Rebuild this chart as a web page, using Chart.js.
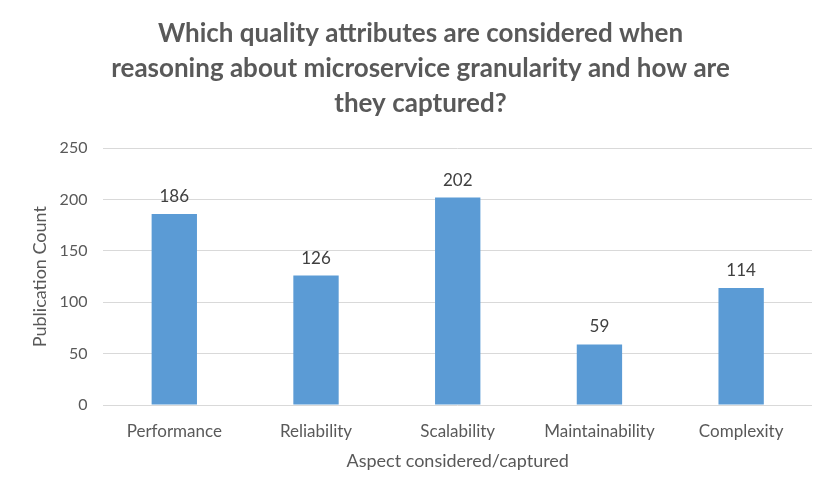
<!DOCTYPE html>
<html lang="en">
<head>
    <meta charset="UTF-8">
    <script src="https://cdn.jsdelivr.net/npm/chart.js"></script>
    <title>Quality attributes</title>
    <style>
        html, body { margin: 0; padding: 0; background: #ffffff; }
        #grafico { display: block; }
    </style>
</head>
<body>
    <canvas id="grafico" width="837" height="497"></canvas>

<script>
    const categorias = ['Performance', 'Reliability', 'Scalability', 'Maintainability', 'Complexity'];
    const contagens = [186, 126, 202, 59, 114];
    const tituloLinhas = [
        'Which quality attributes are considered when',
        'reasoning about microservice granularity and how are',
        'they captured?'
    ];

    const fonte = 'Lato, "Liberation Sans", sans-serif';
    const cinza = '#595959';

    // rotulos de valor em cima das barras
    const rotulosBarras = {
        id: 'rotulosBarras',
        afterDatasetsDraw(chart) {
            const ctx = chart.ctx;
            const meta = chart.getDatasetMeta(0);
            ctx.save();
            ctx.font = '17px ' + fonte;
            ctx.fillStyle = '#404040';
            ctx.textAlign = 'center';
            ctx.textBaseline = 'bottom';
            meta.data.forEach((barra, i) => {
                ctx.fillText(contagens[i], barra.x, barra.y - 9);
            });
            ctx.restore();
        }
    };

    const ctx = document.getElementById('grafico').getContext('2d');
    new Chart(ctx, {
        type: 'bar',
        data: {
            labels: categorias,
            datasets: [{
                data: contagens,
                backgroundColor: '#5b9bd5',
                categoryPercentage: 1,
                barPercentage: 0.32
            }]
        },
        options: {
            responsive: false,
            animation: false,
            layout: { padding: { left: 29, right: 25, top: 6, bottom: 25 } },
            plugins: {
                legend: { display: false },
                tooltip: { enabled: false },
                title: {
                    display: true,
                    text: tituloLinhas,
                    color: cinza,
                    font: { family: fonte, size: 26, weight: 'bold', lineHeight: 1.35 },
                    padding: { top: 10, bottom: 27 }
                }
            },
            scales: {
                x: {
                    grid: { display: false },
                    border: { display: false },
                    ticks: { color: cinza, font: { family: fonte, size: 17 }, padding: 8 },
                    title: {
                        display: true,
                        text: 'Aspect considered/captured',
                        color: cinza,
                        font: { family: fonte, size: 18 },
                        padding: { top: 1, bottom: 0 }
                    }
                },
                y: {
                    min: 0,
                    max: 250,
                    ticks: { stepSize: 50, color: cinza, font: { family: fonte, size: 16 }, padding: 16 },
                    grid: { color: '#d9d9d9', lineWidth: 1, drawTicks: false },
                    border: { display: false },
                    title: {
                        display: true,
                        text: 'Publication Count',
                        color: cinza,
                        font: { family: fonte, size: 18 },
                        padding: { top: 0, bottom: -7 }
                    }
                }
            }
        },
        plugins: [rotulosBarras]
    });
</script>
</body>
</html>
